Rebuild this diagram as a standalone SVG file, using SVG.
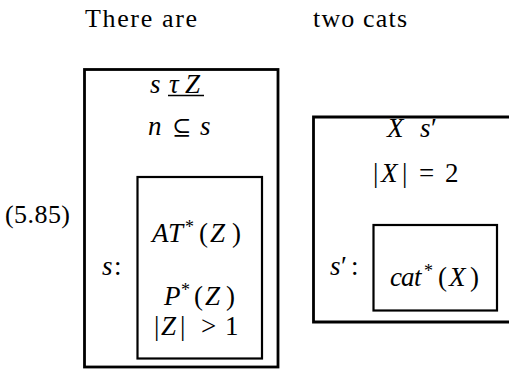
<svg xmlns="http://www.w3.org/2000/svg" width="509" height="370" viewBox="0 0 509 370">
<style>
text{font-family:"Liberation Serif","DejaVu Serif",serif;font-size:26px;fill:#000}
.m{font-size:27px}
.i{font-style:italic}
.sup{font-size:18px}
.outer{fill:none;stroke:#000;stroke-width:2.8}
.inner{fill:none;stroke:#000;stroke-width:2.2}
</style>
<rect width="509" height="370" fill="#fff"/>
<g id="header">
<text x="85" y="27" textLength="112" lengthAdjust="spacing">There are</text>
<text x="313" y="27" textLength="94" lengthAdjust="spacing">two cats</text>
</g>
<g id="label-585">
<text x="5" y="223" textLength="65" lengthAdjust="spacing">(5.85)</text>
</g>
<g id="box-s">
<rect class="outer" x="84.5" y="69.5" width="193.5" height="297.5"/>
<text class="m" y="93"><tspan x="150" class="i">s</tspan><tspan x="169" class="i">τ</tspan><tspan x="185" class="i">Z</tspan></text>
<line x1="168" y1="95.5" x2="204" y2="95.5" stroke="#000" stroke-width="1.6"/>
<text class="m" y="135"><tspan x="148" class="i">n</tspan><tspan x="172" font-size="23">⊆</tspan><tspan x="200" class="i">s</tspan></text>
<text class="m" y="275"><tspan x="102" class="i">s</tspan><tspan x="114">:</tspan></text>
</g>
<g id="box-s-inner">
<rect class="inner" x="137.5" y="177" width="124.5" height="181.5"/>
<text class="m" y="242"><tspan x="152" class="i">A</tspan><tspan x="168" class="i">T</tspan><tspan x="185" y="233" class="sup">*</tspan><tspan x="199" y="242">(</tspan><tspan x="210" class="i">Z</tspan><tspan x="232">)</tspan></text>
<text class="m" y="305"><tspan x="164" class="i">P</tspan><tspan x="181" y="296" class="sup">*</tspan><tspan x="194" y="305">(</tspan><tspan x="205" class="i">Z</tspan><tspan x="226">)</tspan></text>
<text class="m" y="335"><tspan x="154">|</tspan><tspan x="161" class="i">Z</tspan><tspan x="180">|</tspan><tspan x="201">&gt;</tspan><tspan x="225">1</tspan></text>
</g>
<g id="box-s2">
<path class="outer" d="M512 117 H313.5 V322 H512"/>
<text class="m" y="137"><tspan x="387" class="i">X</tspan><tspan x="420" class="i">s</tspan><tspan x="431">′</tspan></text>
<text class="m" y="182"><tspan x="373">|</tspan><tspan x="381" class="i">X</tspan><tspan x="402">|</tspan><tspan x="419">=</tspan><tspan x="445">2</tspan></text>
<text class="m" y="275"><tspan x="330" class="i">s</tspan><tspan x="341">′</tspan><tspan x="351">:</tspan></text>
</g>
<g id="box-s2-inner">
<rect class="inner" x="373.5" y="225" width="123.5" height="85.5"/>
<text class="m" y="286"><tspan x="390" class="i">c</tspan><tspan x="401" class="i">a</tspan><tspan x="414" class="i">t</tspan><tspan x="424" y="277" class="sup">*</tspan><tspan x="438" y="286">(</tspan><tspan x="449" class="i">X</tspan><tspan x="470">)</tspan></text>
</g>
</svg>
